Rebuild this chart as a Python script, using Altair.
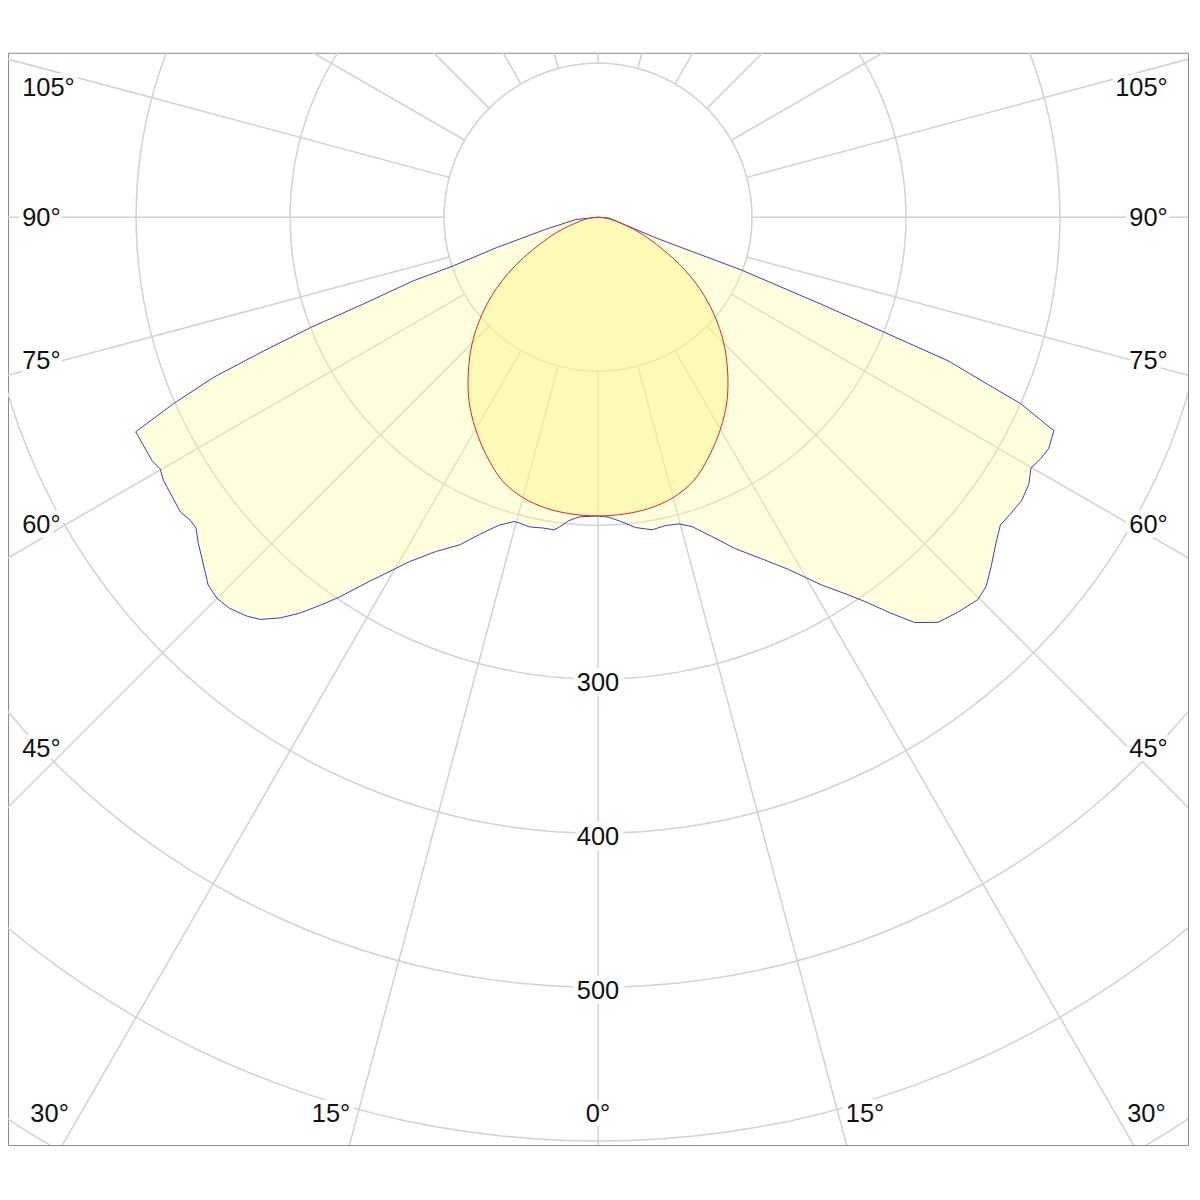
import altair as alt
import numpy as np
import pandas as pd

# ---------------- data ----------------
# C0-C180 plane (blue curve). gamma = angle from nadir in degrees, value = cd/klm
c180_gamma = [90, 84, 77, 73.3, 71.4, 71.0, 69.7, 69.0, 68.2, 67.4, 66.3, 65.1,
              61.4, 60.1, 58.8, 56.3, 54.8, 53.4, 52.3, 50.8, 49.1, 46.7, 45.0,
              43.3, 41.3, 40.0, 38.4, 37.0, 35.6, 34.2, 32.1, 31.3, 28.7, 25.8,
              22.9, 20.5, 17.8, 15.4, 14.5, 12.5, 10.1, 8.0, 7.2, 5.5, 3.6, 0]
c180_value = [0, 14.5, 35, 69, 100, 127, 163, 200, 234, 270, 301, 331,
              330, 328, 330, 331, 332, 330, 330, 335, 340, 348, 350,
              349, 345, 341, 332, 322, 310, 298, 279, 273, 255, 241,
              231, 220, 210, 205, 205, 206, 205, 205, 203, 198, 195, 194]

c0_gamma = [0, 2.1, 4.5, 6.9, 9.8, 12.4, 14.8, 16.9, 19.6, 22.5, 25.6, 28.4,
            31.3, 33.5, 34.8, 36.5, 38.0, 40.0, 42.3, 44.8, 46.4, 48.4, 50.7,
            52.6, 54.3, 56.3, 58.3, 59.9, 61.4, 62.8, 64.9, 66.2, 66.8, 67.7,
            68.1, 68.7, 69.8, 70.3, 86, 90]
c0_value = [194, 195, 198.5, 203, 206, 205, 206, 210, 220, 233, 246, 260,
            279.5, 294, 304, 320, 334, 343.5, 347, 350, 348, 341.5, 334,
            329, 330, 331, 329, 325, 327.5, 329, 327, 300, 275, 246,
            201, 156, 99, 40, 7, 0]

# C90-C270 plane (red curve), symmetric
c90_gamma = [0, 5, 10, 15, 20, 25, 30, 35, 40, 45, 50, 55, 60, 65, 70, 75, 80, 85, 90]
c90_value = [194, 193.5, 192, 188.5, 182, 171, 159, 146, 131, 115.5, 98.5, 80.5,
             61, 42, 28, 16, 9, 4, 0]

ring_values = [100, 200, 300, 400, 500, 600, 700]
ring_label_values = [300, 400, 500]
spoke_angles = list(range(0, 360, 15))
side_label_angles = [105, 90, 75, 60, 45]
bottom_label_angles = [30, 15]

# ---------------- tables ----------------
rows = []
k = 0
for g, v in zip(c180_gamma, c180_value):
    rows.append(dict(curve="C0-C180", order=k, side=-1, gamma=g, cd=v)); k += 1
for g, v in zip(c0_gamma, c0_value):
    rows.append(dict(curve="C0-C180", order=k, side=1, gamma=g, cd=v)); k += 1
blue_df = pd.DataFrame(rows)

rows = []
k = 0
for g, v in zip(c90_gamma[::-1], c90_value[::-1]):
    rows.append(dict(curve="C90-C270", order=k, side=-1, gamma=g, cd=v)); k += 1
for g, v in zip(c90_gamma[1:], c90_value[1:]):
    rows.append(dict(curve="C90-C270", order=k, side=1, gamma=g, cd=v)); k += 1
red_df = pd.DataFrame(rows)

circle_steps = np.arange(0, 361, 2)
ring_df = pd.DataFrame([dict(ring=r, t=float(t)) for r in ring_values for t in circle_steps])
spoke_df = pd.DataFrame(dict(a=spoke_angles))
ring_lab_df = pd.DataFrame(dict(v=ring_label_values, txt=[str(v) for v in ring_label_values]))


# angle labels: each sits where its spoke crosses an inset of the frame
def side_y(a):
    inset = 345.0 if a <= 90 else 316.0
    return -inset * np.cos(np.radians(a)) / np.sin(np.radians(a))


def bottom_x(a):
    return 582 * np.tan(np.radians(a)) + (2.3 + 0.18 * a)


left_lab = pd.DataFrame(dict(
    txt=[f"{a}°" for a in side_label_angles],
    x=[-374.0] * len(side_label_angles),
    y=[side_y(a) for a in side_label_angles]))
right_lab = pd.DataFrame(dict(
    txt=[f"{a}°" for a in side_label_angles],
    x=[370.0] * len(side_label_angles),
    y=[side_y(a) for a in side_label_angles]))
bl_lab = pd.DataFrame(dict(
    txt=[f"{a}°" for a in bottom_label_angles],
    x=[-bottom_x(a) for a in bottom_label_angles],
    y=[-582.0] * len(bottom_label_angles)))
br_lab = pd.DataFrame(dict(
    txt=[f"{a}°" for a in bottom_label_angles],
    x=[bottom_x(a) for a in bottom_label_angles],
    y=[-582.0] * len(bottom_label_angles)))
bc_lab = pd.DataFrame(dict(txt=["0°"], x=[0.0], y=[-582.0]))

# ---------------- scales ----------------
XS = alt.Scale(domain=[-383.2, 383.2], nice=False, zero=False)
YS = alt.Scale(domain=[-602.6, 106.8], nice=False, zero=False)
GRID = "#d2d2d2"
FONT = "Liberation Sans"
FS = 25.5

rings = alt.Chart(ring_df).transform_calculate(
    x="datum.ring * cos(datum.t * PI / 180)",
    y="datum.ring * sin(datum.t * PI / 180)",
).mark_line(clip=True, color=GRID, strokeWidth=1.5).encode(
    x=alt.X("x:Q", scale=XS, axis=None),
    y=alt.Y("y:Q", scale=YS, axis=None),
    detail="ring:N",
    order="t:Q",
)

spokes = alt.Chart(spoke_df).transform_calculate(
    x="100 * sin(datum.a * PI / 180)",
    y="-100 * cos(datum.a * PI / 180)",
    x2="900 * sin(datum.a * PI / 180)",
    y2="-900 * cos(datum.a * PI / 180)",
).mark_rule(clip=True, color=GRID, strokeWidth=1.5).encode(
    x=alt.X("x:Q", scale=XS, axis=None),
    y=alt.Y("y:Q", scale=YS, axis=None),
    x2="x2:Q",
    y2="y2:Q",
)


def curve(df, stroke, fill, opacity, interp):
    return alt.Chart(df).transform_calculate(
        x="datum.side * datum.cd * sin(datum.gamma * PI / 180)",
        y="-datum.cd * cos(datum.gamma * PI / 180)",
    ).mark_line(clip=True, stroke=stroke, strokeWidth=1, fill=fill,
                fillOpacity=opacity, interpolate=interp).encode(
        x=alt.X("x:Q", scale=XS, axis=None),
        y=alt.Y("y:Q", scale=YS, axis=None),
        order="order:Q",
    )


blue = curve(blue_df, "#3c3cc8", "#ffffa0", 0.36, "linear")
red = curve(red_df, "#d02a2a", "#fff27a", 0.40, "catmull-rom")


def labels(df, align, calc=None):
    base = alt.Chart(df)
    if calc:
        base = base.transform_calculate(**calc)
    enc = dict(x=alt.X("x:Q", scale=XS, axis=None),
               y=alt.Y("y:Q", scale=YS, axis=None),
               text="txt:N")
    halo = base.mark_text(font=FONT, fontSize=FS, align=align, baseline="middle",
                          fill="white", stroke="white", strokeWidth=10,
                          strokeJoin="round", dy=1).encode(**enc)
    txt = base.mark_text(font=FONT, fontSize=FS, align=align, baseline="middle",
                         color="#111111", dy=1).encode(**enc)
    return halo + txt


ring_labels = labels(ring_lab_df, "center", calc=dict(x="0", y="-datum.v - 2"))

chart = alt.layer(
    rings, spokes, blue, red,
    ring_labels,
    labels(left_lab, "left"),
    labels(right_lab, "right"),
    labels(bl_lab, "right"),
    labels(br_lab, "left"),
    labels(bc_lab, "center"),
).properties(
    width=1184, height=1096,
    padding={"left": 0, "top": 43, "right": 4, "bottom": 4},
    autosize=alt.AutoSizeParams(type="none"),
    background="white",
).configure_view(stroke="#8a8a8a", strokeWidth=1)

chart.save("out.html", embed_options={"renderer": "svg", "actions": False})
